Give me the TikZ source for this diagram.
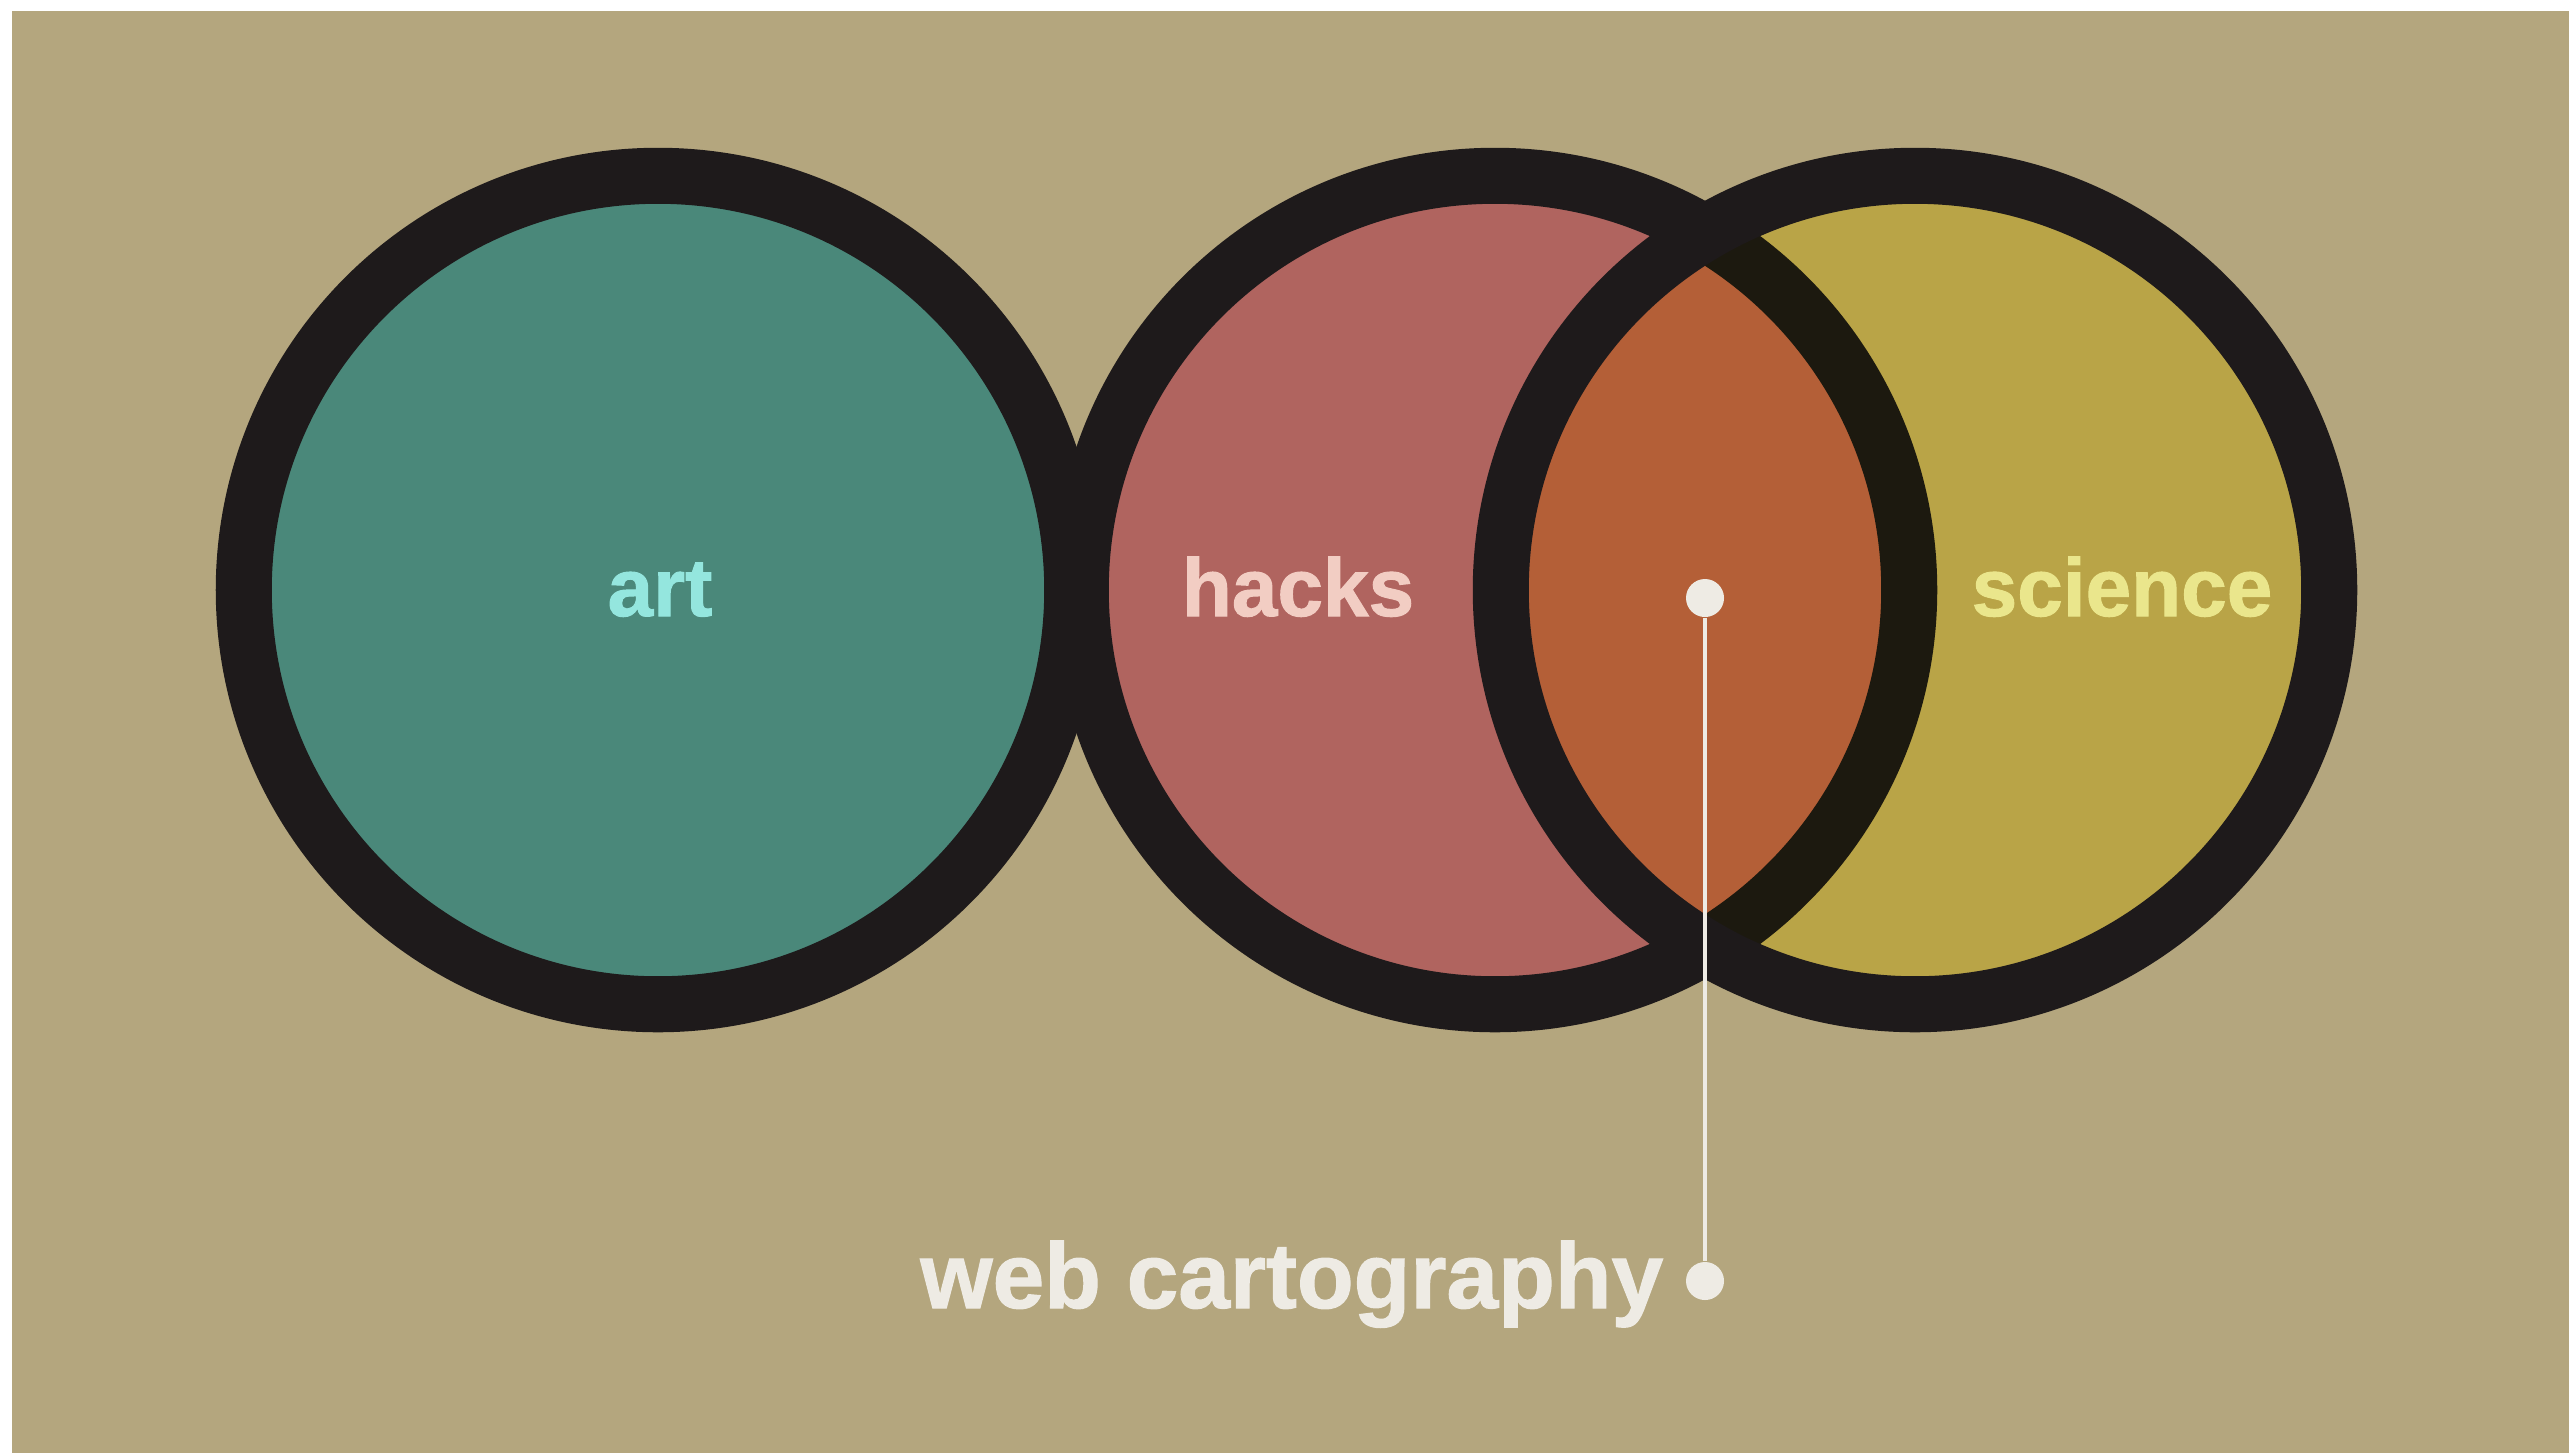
\documentclass[tikz,border=0pt]{standalone}
\usepackage{fontspec}
\setmainfont{Liberation Sans}
\newfontfamily\lblfont[BoldFeatures={FakeBold=1.2}]{Liberation Sans}
\definecolor{bgpaper}{HTML}{B4A67E}
\definecolor{artfill}{HTML}{4A887A}
\definecolor{hackfill}{HTML}{B0645F}
\definecolor{scifill}{HTML}{B9A447}
\definecolor{lensfill}{HTML}{B45F37}
\definecolor{ringblack}{HTML}{1E1A1B}
\definecolor{ringbrown}{HTML}{1C190F}
\definecolor{arttext}{HTML}{94E6DE}
\definecolor{hacktext}{HTML}{F2CDC3}
\definecolor{scitext}{HTML}{EAE68C}
\definecolor{webtext}{HTML}{EEEBE4}
\begin{document}
\begin{tikzpicture}[x=0.01cm,y=-0.01cm,
  ring/.style={draw=ringblack,line width=0.56cm},
  label/.style={font=\lblfont\fontsize{23.3pt}{28pt}\selectfont\bfseries,anchor=base,inner sep=0pt},
  pin/.style={circle,fill=webtext,inner sep=0pt,minimum size=0.38cm},
  pinline/.style={draw=webtext,line width=1.4pt}]
\useasboundingbox (0,0) rectangle (2569,1453);
\fill[white] (0,0) rectangle (2569,1453);
\fill[bgpaper] (12,11) rectangle (2569,1453);
\coordinate (artc) at (658,590);
\coordinate (hackc) at (1495,590);
\coordinate (scic) at (1915,590);
% art
\fill[artfill] (artc) circle[radius=4.14cm];
\draw[ring] (artc) circle[radius=4.14cm];
% hacks
\fill[hackfill] (hackc) circle[radius=4.14cm];
\draw[ring] (hackc) circle[radius=4.14cm];
% science
\fill[scifill] (scic) circle[radius=4.14cm];
\begin{scope}
  \clip (scic) circle[radius=4.14cm];
  \fill[lensfill] (hackc) circle[radius=4.14cm];
  \draw[ring,draw=ringbrown] (hackc) circle[radius=4.14cm];
\end{scope}
\draw[ring] (scic) circle[radius=4.14cm];
% labels
\node[label,text=arttext] (art) at (660,616) {art};
\node[label,text=hacktext] (hacks) at (1298,616) {hacks};
\node[label,text=scitext] (science) at (2122,616) {science};
\node[label,text=webtext,anchor=base east,font=\lblfont\fontsize{26.4pt}{30pt}\selectfont\bfseries] (web) at (1664,1308) {web cartography};
% pin
\node[pin] (pintop) at (1705,598) {};
\node[pin] (pinbot) at (1705,1281) {};
\draw[pinline] (pintop) -- (pinbot);
\end{tikzpicture}
\end{document}
